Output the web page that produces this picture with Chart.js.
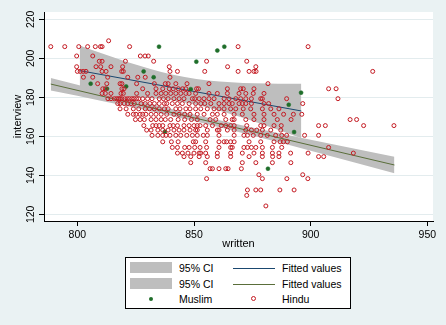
<!DOCTYPE html>
<html><head><meta charset="utf-8">
<script src="https://cdn.jsdelivr.net/npm/chart.js@4/dist/chart.umd.min.js"></script>
<style>
html,body{margin:0;padding:0;background:#eaf2f3;}
#wrap{position:relative;width:446px;height:325px;overflow:hidden;}
#c{position:absolute;left:0;top:0;}
#legend{position:absolute;left:125px;top:257px;width:224px;height:50px;border:1px solid #000;background:#fff;font-family:"Liberation Sans",Arial,sans-serif;font-size:10.5px;color:#000;}
#legend div{position:absolute;}
.tx{line-height:12px;white-space:nowrap;}
.sw{width:42px;height:11px;background:#bebebe;left:4px;}
.ln{width:42px;height:1px;left:107px;}
</style></head>
<body>
<div id="wrap">
<canvas id="c" width="446" height="325"></canvas>
<div id="legend">
  <div class="sw" style="top:4px"></div>
  <div class="tx" style="left:53px;top:4px">95% CI</div>
  <div class="ln" style="top:10px;background:#1a476f"></div>
  <div class="tx" style="left:156px;top:4px">Fitted values</div>
  <div class="sw" style="top:20px"></div>
  <div class="tx" style="left:53px;top:20px">95% CI</div>
  <div class="ln" style="top:26px;background:#5a6e3a"></div>
  <div class="tx" style="left:156px;top:20px">Fitted values</div>
  <div style="left:23px;top:39px;width:4px;height:4px;border-radius:50%;background:#1f6e2a"></div>
  <div class="tx" style="left:53px;top:35px">Muslim</div>
  <div style="left:125px;top:38px;width:3px;height:3px;border-radius:50%;border:1px solid #c41a22"></div>
  <div class="tx" style="left:156px;top:35px">Hindu</div>
</div>
</div>
<script>
// ---- data ----
const xTicks = [800, 850, 900, 950];
const yTicks = [120, 140, 160, 180, 200, 220];

const muslimWritten   = [835, 863, 860, 851, 828.4, 832.7, 805.7, 820.9, 812.7, 848.6, 895.9, 890.6, 892.9, 837.5, 881.7];
const muslimInterview = [206, 206, 204, 198.3, 193.3, 190.3, 187, 185.6, 184.4, 184.2, 182.4, 176.2, 162.2, 162.4, 143.4];

const hinduLevels = [206, 209, 201.2, 198.5, 195.7, 193.3, 190.3, 187, 184.4, 182, 179.3, 176.8, 174.1, 171.3, 168.6, 165.5, 163.2, 160.5, 157.2, 154.3, 151.4, 149.6, 146.5, 143.4, 140.3, 138.3, 132.5, 129.7, 124.3];
const hinduRows = [
  [788.6,794.6,800.6,804.4,807.7,809.9,810.6,822.4,868.9,898.9],
  [813.4],
  [799.7,806.6,827,829,830.4],
  [809.4,810.6,820.6,832.7,855.4,872.6],
  [799.7,808,810,814.4,819.4,839.4,864.4,876.5],
  [800,801.2,802.5,803.7,810.6,812.3,819,819.7,839.7,842.9,854.6,868.9,873.6,875.7,876.6,926.6],
  [802.6,806.6,813,821.6,825.9,829.1,839.7],
  [808.7,812.6,818.3,819.1,825.4,833,837.7,838.9,842.2,847,856.4,881.7],
  [810.9,812,819.1,820,828,833.7,836.6,839.4,841.1,843.3,845.1,846.5,851.1,851.9,864.3,870,871.1,875.7,907.7,910.9],
  [810.6,812,814.4,818.7,819.7,825.4,830.1,833.7,835.9,837.9,840,842.2,844.3,846.5,847.9,850.7,856.4,860,864.3,869.3,872.2,875.4,880],
  [813.1,814.4,815.9,816.9,817.7,818.3,819.1,820.3,821.4,822.3,823.4,824.3,825.4,826.3,828,830.1,832,835.1,836.9,838.9,841.4,843.6,845.7,849.3,850.3,852.2,854.3,856.4,858.6,862.9,865,867.9,870,872.2,874.6,878.6,879.3,889.7,911.7],
  [817.3,818.3,820.1,821.6,823,824.4,827.3,829.1,831.1,833,835.1,837.3,838.3,840.7,842.9,845,847.9,850.7,852.9,854.6,857.2,860.7,862.9,865,866.4,869.3,870.7,872.2,874.6,880,882,896.6],
  [818.3,820.9,824,826.3,829.1,830.9,833,835.1,837.3,838.9,842.2,844,846.5,848.3,850.7,852.9,855.7,858.6,860.7,862.9,865.7,867.9,871.1,874.3,879.3,882.9,886.4],
  [821.6,824,825.1,826.9,828,829.4,831.6,833.7,835.9,838.3,841.4,843.6,846,848.3,851.4,854.3,857.9,860,862.9,867.2,870.7,875.7,880,884.3,888.4,892.6,896.2],
  [824.9,826.9,828.7,831.6,833.7,835.9,837.7,840,843.2,846,848.9,851.4,856.9,859.3,863.6,866.4,867.2,872.2,875.7,880,885.7,891.6,916.9,919.7],
  [828.5,832.3,833.7,835.1,836.6,839.7,841.1,842.9,845.7,847.9,850,851.4,852.6,855,857.9,861.7,863.6,865.7,867.2,872.6,878.6,880,884.3,887.4,903.4,906.3,922.7,935.7],
  [829.7,831.6,834.5,836.6,838.9,841.4,843.6,845.7,848.3,850.7,851.4,855.7,860,860.7,864.3,867.2,872.2,874.6,876.9,879.3,882.9,887.2],
  [832,834.5,836.6,838,839.7,842.2,844.3,846.9,849.3,851.4,854,855.7,860.7,867.2,871.4,872.9,875.4,878.6,881.4,885,887.6,889.7,897.4,903.4],
  [836.6,840.3,843.2,849.7,850.7,855,860.7,862.9,864,865.7,867.2,873.6,878.6,884.3,886.9,888.3,890],
  [840.7,842.9,846,847.9,850.3,852.6,855.4,860.7,865.7,866.4,871.4,872.9,874.6,876.5,879.3,883.6,887.6,907.7],
  [842.9,845,847.4,850,852.2,852.9,855,860,865.7,870.7,875.7,879.3,883.6,886.4,891.4,898.9,918.3],
  [845.7,848.6,852.2,855.7,860,865.7,873.6,879.3,883.7,886.4,903.4,905.6],
  [848.6,855,870.7,876.5,883.6,891.5],
  [856.9,857.9,860.7,863.6,864.6,870.3],
  [877.8,896.6],
  [855.4,879.3,889.8,898.8],
  [872.9,876.5,878.6,886.8,892.9],
  [872.6],
  [880.8]
];

const muslimFitX = [801, 896];
const muslimFitY = [193.7, 173.0];
const muslimCIx  = [801,806,811,816,821,826,831,836,841,846,851,856,861,866,871,876,881,886,891,896];
const muslimCIhi = [206.56,204.42,202.32,200.28,198.30,196.41,194.64,193.02,191.60,190.39,189.42,188.66,188.10,187.69,187.40,187.20,187.06,186.98,186.94,186.93];
const muslimCIlo = [180.84,180.80,180.72,180.58,180.38,180.09,179.68,179.12,178.36,177.39,176.18,174.76,173.14,171.37,169.48,167.50,165.46,163.36,161.22,159.05];

const hinduFitX = [788.6, 935.9];
const hinduFitY = [186.8, 145.3];
const hinduCIx  = [788.6,800,810,820,830,840,850,860,870,880,890,900,910,920,935.9];
const hinduCIhi = [189.91,186.40,183.25,180.13,177.06,174.09,171.20,168.45,165.79,163.22,160.71,158.23,155.78,153.34,149.49];
const hinduCIlo = [183.47,180.78,178.31,175.79,173.22,170.57,167.80,164.93,161.95,158.88,155.77,152.61,149.42,146.22,141.07];

// ---- build ----
const pts = (xs, ys) => xs.map((x, i) => ({x: x, y: ys[i]}));
const hinduPts = [];
hinduRows.forEach((row, i) => row.forEach(x => hinduPts.push({x: x, y: hinduLevels[i]})));

const GRAY = '#bebebe';
const FONT = 'Liberation Sans';

const whiteArea = {
  id: 'whiteArea',
  beforeDraw(chart) {
    const {ctx, chartArea: a} = chart;
    ctx.save();
    ctx.fillStyle = '#ffffff';
    ctx.fillRect(a.left, a.top, a.right - a.left, a.bottom - a.top);
    ctx.restore();
  }
};

// y tick labels drawn rotated (Stata style), positioned by the y scale
const rotatedYLabels = {
  id: 'rotatedYLabels',
  afterDraw(chart) {
    const s = chart.scales.y;
    const ctx = chart.ctx;
    ctx.save();
    ctx.font = '10.5px "' + FONT + '"';
    ctx.fillStyle = '#000';
    ctx.textAlign = 'center';
    ctx.textBaseline = 'middle';
    s.ticks.forEach(t => {
      const y = s.getPixelForValue(t.value);
      ctx.save();
      ctx.translate(31, y);
      ctx.rotate(-Math.PI / 2);
      ctx.fillText(String(t.value), 0, 0);
      ctx.restore();
    });
    ctx.restore();
  }
};

new Chart(document.getElementById('c'), {
  type: 'scatter',
  data: {
    datasets: [
      {type: 'line', data: pts(muslimCIx, muslimCIhi), borderWidth: 0, pointRadius: 0, fill: '+1', backgroundColor: GRAY, borderColor: GRAY, order: 60},
      {type: 'line', data: pts(muslimCIx, muslimCIlo), borderWidth: 0, pointRadius: 0, fill: false, borderColor: GRAY, order: 59},
      {type: 'line', data: pts(muslimFitX, muslimFitY), borderWidth: 1, pointRadius: 0, fill: false, borderColor: '#1a476f', order: 55},
      {type: 'line', data: pts(hinduCIx, hinduCIhi), borderWidth: 0, pointRadius: 0, fill: '+1', backgroundColor: GRAY, borderColor: GRAY, order: 50},
      {type: 'line', data: pts(hinduCIx, hinduCIlo), borderWidth: 0, pointRadius: 0, fill: false, borderColor: GRAY, order: 49},
      {type: 'line', data: pts(hinduFitX, hinduFitY), borderWidth: 1, pointRadius: 0, fill: false, borderColor: '#5a6e3a', order: 45},
      {data: pts(muslimWritten, muslimInterview), pointRadius: 2, pointBorderWidth: 0.5, backgroundColor: '#1f6e2a', borderColor: '#1f6e2a', order: 20},
      {data: hinduPts, pointRadius: 2, pointBorderWidth: 1, backgroundColor: 'rgba(0,0,0,0)', borderColor: '#c41a22', order: 10}
    ]
  },
  options: {
    responsive: false,
    animation: false,
    events: [],
    layout: {padding: {left: 0, right: 13, top: 12, bottom: 74}},
    plugins: {legend: {display: false}, tooltip: {enabled: false}},
    scales: {
      x: {
        type: 'linear', min: 785.7, max: 952.44,
        afterBuildTicks: s => { s.ticks = xTicks.map(v => ({value: v})); },
        afterFit: s => { s.height = 30; },
        grid: {drawOnChartArea: false, drawTicks: true, tickLength: 5, tickColor: '#000'},
        border: {display: true, color: '#000', width: 1},
        ticks: {font: {family: FONT, size: 10.5}, color: '#000', padding: 3, maxRotation: 0, autoSkip: false},
        title: {display: true, text: 'written', font: {family: FONT, size: 11}, color: '#000', padding: {top: 0, bottom: 0.4}}
      },
      y: {
        type: 'linear', min: 116.58, max: 223.76,
        afterBuildTicks: s => { s.ticks = yTicks.map(v => ({value: v})); },
        afterFit: s => { s.width = 44; },
        grid: {color: '#e3ecee', lineWidth: 1, drawTicks: true, tickLength: 5, tickColor: '#000'},
        border: {display: true, color: '#000', width: 1},
        ticks: {display: false},
        title: {display: true, text: 'interview', font: {family: FONT, size: 11}, color: '#000', padding: {top: 11.7, bottom: 0}}
      }
    }
  },
  plugins: [whiteArea, rotatedYLabels]
});
</script>
</body></html>
